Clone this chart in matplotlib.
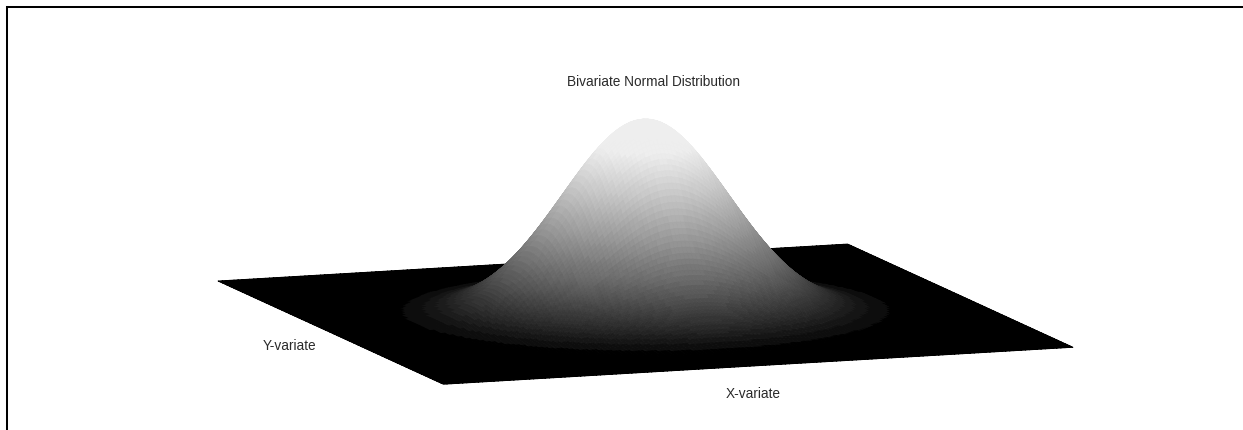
import numpy as np
import matplotlib
matplotlib.use("Agg")
import matplotlib.pyplot as plt
from matplotlib.lines import Line2D
from mpl_toolkits.mplot3d import proj3d

plt.rcParams['font.family'] = ['Liberation Sans', 'DejaVu Sans']

TITLE = "Bivariate Normal Distribution"
X_LABEL = "X-variate"
Y_LABEL = "Y-variate"
AXIS_LIMIT = 4

# relative height of the bell along one axis, from the centre to the edge
profile_half = [1.00000, .99875, .99501, .98881, .98020, .96923, .95600, .94059, .92312, .90371,
                .88250, .85963, .83527, .80957, .78270, .75484, .72615, .69680, .66698, .63683,
                .60653, .57623, .54607, .51621, .48675, .45783, .42956, .40202, .37531, .34950,
                .32465, .30082, .27804, .25634, .23575, .21627, .19790, .18065, .16448, .14938,
                .13534, .12230, .11025, .09914, .08892, .07956, .07100, .06321, .05614, .04972,
                .04394, .03873, .03405, .02986, .02612, .02279, .01984, .01723, .01492, .01289,
                .01111, .00955, .00819, .00701, .00598, .00509, .00432, .00366, .00309, .00260,
                .00219, .00184, .00153, .00128, .00106, .00088, .00073, .00060, .00050, .00041, .00034]

profile = np.array(profile_half[:0:-1] + profile_half)
coords = np.linspace(-AXIS_LIMIT, AXIS_LIMIT, len(profile))
X, Y = np.meshgrid(coords, coords)
Z = np.outer(profile, profile)

W, H = 1243, 430
fig = plt.figure(figsize=(W / 100, H / 100), dpi=100)

# face colours: quantised gray ramp by height
cell = (Z[:-1, :-1] + Z[1:, :-1] + Z[:-1, 1:] + Z[1:, 1:]) / 4
N = 58
SAT = 0.85
idx = np.clip(np.floor(cell / SAT * N), 0, N) / N
g = 0.935 * idx ** 0.72
fc = np.dstack([g, g, g, np.ones_like(g)])

ax = fig.add_axes([0.1, 0, H / W, 1], projection='3d', proj_type='ortho')
ax.view_init(elev=9.44, azim=-109.7)
ax.set_box_aspect((1, 1, 0.295))
ax.plot_surface(X, Y, Z, rstride=1, cstride=1, facecolors=fc, shade=False,
                linewidth=0.6, antialiased=True)
ax.set_xlim(-AXIS_LIMIT, AXIS_LIMIT)
ax.set_ylim(-AXIS_LIMIT, AXIS_LIMIT)
ax.set_zlim(0, 1)
ax.set_axis_off()
ax.patch.set_alpha(0)


def corner_px(xv, yv):
    ax.apply_aspect()
    M = ax.get_proj()
    px, py, _ = proj3d.proj_transform(xv, yv, 0, M)
    return ax.transData.transform((px, py))


# fit the axes so that the base lands where it does in the reference
size = H
left = 100.0
bottom = 0.0
for _ in range(3):
    ax.set_position([left / W, bottom / H, size / W, size / H])
    a = corner_px(-AXIS_LIMIT, AXIS_LIMIT)   # left corner
    b = corner_px(AXIS_LIMIT, -AXIS_LIMIT)   # right corner
    size *= (1073 - 218) / (b[0] - a[0])
    ax.set_position([left / W, bottom / H, size / W, size / H])
    a = corner_px(-AXIS_LIMIT, AXIS_LIMIT)
    left += 218 - a[0]
    bottom += (H - 281) - a[1]
ax.set_position([left / W, bottom / H, size / W, size / H])

fig.text(653.5 / W, 1 - 82.5 / H, TITLE, ha='center', va='center', fontsize=9.8, color='#2a2a2a')
fig.text(290 / W, 1 - 345.5 / H, Y_LABEL, ha='center', va='center', fontsize=9.8, color='#2a2a2a')
fig.text(753.5 / W, 1 - 393.5 / H, X_LABEL, ha='center', va='center', fontsize=9.8, color='#2a2a2a')

# outer frame
fx0, fy0 = 7 / W, 1 - 7 / H
fig.add_artist(Line2D([fx0, fx0], [0, fy0], color='black', lw=1.45, solid_capstyle='projecting'))
fig.add_artist(Line2D([fx0, 1], [fy0, fy0], color='black', lw=1.45, solid_capstyle='projecting'))

fig.savefig("out.png", dpi=100)
